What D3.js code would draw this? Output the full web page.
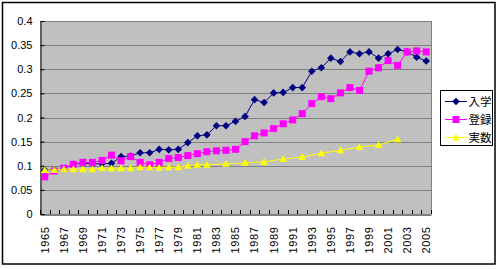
<!DOCTYPE html>
<html>
<head>
<meta charset="utf-8">
<script src="https://cdn.jsdelivr.net/npm/d3@7"></script>
<style>
  body { margin: 0; background: #fff; }
  svg { display: block; }
</style>
</head>
<body>
<div id="chart"></div>
<script>
var svgWidth = 499;
var svgHeight = 269;

var plot = { left: 40, right: 431, top: 21, bottom: 214 };

// data
var years = d3.range(1965, 2006);
var labelYears = years.filter(d => d % 2 == 1);
var yTicks = [0, 0.05, 0.1, 0.15, 0.2, 0.25, 0.3, 0.35, 0.4];
var seriesNames = ["入学", "登録", "実数"];

var nyugaku = [0.091, 0.091, 0.094, 0.103, 0.105, 0.104, 0.104, 0.105, 0.119, 0.12,
  0.127, 0.127, 0.134, 0.133, 0.134, 0.148, 0.162, 0.164, 0.183, 0.183,
  0.192, 0.202, 0.237, 0.231, 0.251, 0.252, 0.262, 0.262, 0.296, 0.303,
  0.323, 0.316, 0.336, 0.332, 0.336, 0.323, 0.332, 0.341, 0.336, 0.325, 0.317];

var touroku = [0.077, 0.089, 0.095, 0.103, 0.107, 0.107, 0.111, 0.122, 0.11, 0.119,
  0.107, 0.102, 0.107, 0.115, 0.117, 0.121, 0.125, 0.129, 0.131, 0.132,
  0.134, 0.15, 0.162, 0.168, 0.177, 0.187, 0.195, 0.208, 0.229, 0.243,
  0.239, 0.251, 0.262, 0.256, 0.296, 0.303, 0.318, 0.308, 0.336, 0.338, 0.336];

var jissu = [0.091, 0.091, 0.093, 0.093, 0.093, 0.093, 0.095, 0.095, 0.095, 0.095,
  0.097, 0.097, 0.096, 0.097, 0.097, 0.1, 0.102, 0.102, null, 0.104,
  null, 0.106, null, 0.108, null, 0.114, null, 0.118, null, 0.126,
  null, 0.132, null, 0.139, null, 0.143, null, 0.155, null, null, null];

var colors = ["#000080", "#ff00ff", "#ffff00"];
var markers = [
  "M0,-3.8L3.8,0L0,3.8L-3.8,0Z",
  "M-3.5,-3.5H3.5V3.5H-3.5Z",
  "M0,-3.8L3.8,3L-3.8,3Z"
];

var svg = d3.select("#chart")
  .append("svg")
  .attr("width", svgWidth)
  .attr("height", svgHeight);

// chart border
svg.append("rect")
  .attr("x", 2.5).attr("y", 2.5)
  .attr("width", 492.5).attr("height", 261.5)
  .attr("fill", "#fff")
  .attr("stroke", "#000")
  .attr("stroke-width", 1.5);

var x = d3.scaleBand()
  .domain(years)
  .range([plot.left, plot.right]);

var y = d3.scaleLinear()
  .domain([0, 0.4])
  .range([plot.bottom, plot.top]);

// plot area
svg.append("rect")
  .attr("x", plot.left).attr("y", plot.top)
  .attr("width", plot.right - plot.left)
  .attr("height", plot.bottom - plot.top)
  .attr("fill", "#c0c0c0");

svg.append("g")
  .selectAll("line")
  .data(yTicks.filter(d => d > 0))
  .enter()
  .append("line")
  .attr("x1", plot.left).attr("x2", plot.right)
  .attr("y1", d => Math.round(y(d)) + 0.5)
  .attr("y2", d => Math.round(y(d)) + 0.5)
  .attr("stroke", "#808080");

svg.append("line")
  .attr("x1", plot.right + 0.5).attr("x2", plot.right + 0.5)
  .attr("y1", plot.top).attr("y2", plot.bottom)
  .attr("stroke", "#808080");

// y axis
var leftAxis = d3.axisLeft(y)
  .tickValues(yTicks)
  .tickFormat(d => String(d))
  .tickSize(-4)
  .tickPadding(8);

var yAxis = svg.append("g")
  .attr("transform", `translate(${plot.left + 0.5}, 0)`)
  .call(leftAxis);
yAxis.select(".domain").attr("stroke", "#000");
yAxis.selectAll(".tick line").attr("stroke", "#000");
yAxis.selectAll("text")
  .attr("font-family", "Liberation Sans, Arial, sans-serif")
  .attr("font-size", "11px")
  .attr("fill", "#000");

// x axis ticks between categories, pointing up
svg.append("g")
  .selectAll("line")
  .data(years.concat([2006]))
  .enter()
  .append("line")
  .attr("x1", d => Math.round(d == 2006 ? plot.right : x(d)) + 0.5)
  .attr("x2", d => Math.round(d == 2006 ? plot.right : x(d)) + 0.5)
  .attr("y1", plot.bottom - 4)
  .attr("y2", plot.bottom)
  .attr("stroke", "#000");

var bottomAxis = d3.axisBottom(x)
  .tickValues(labelYears)
  .tickSize(0)
  .tickSizeOuter(0);

var xAxis = svg.append("g")
  .attr("transform", `translate(0, ${plot.bottom + 0.5})`)
  .call(bottomAxis);
xAxis.select(".domain").attr("stroke", "#000");
xAxis.selectAll("text")
  .attr("transform", "rotate(-90)")
  .attr("text-anchor", "end")
  .attr("x", -12)
  .attr("y", 0)
  .attr("dy", "0.35em")
  .attr("font-family", "Liberation Sans, Arial, sans-serif")
  .attr("font-size", "11px")
  .attr("letter-spacing", "0.6px")
  .attr("fill", "#000");

// series
var allSeries = [nyugaku, touroku, jissu];
var line = d3.line()
  .x(d => x(d.year) + x.bandwidth() / 2)
  .y(d => y(d.v));

allSeries.forEach(function(vals, i) {
  var pts = years.map((yr, j) => ({ year: yr, v: vals[j] }))
    .filter(d => d.v != null);
  var g = svg.append("g");
  g.append("path")
    .attr("d", line(pts))
    .attr("fill", "none")
    .attr("stroke", colors[i])
    .attr("stroke-width", 1);
  g.selectAll("path.m")
    .data(pts)
    .enter()
    .append("path")
    .attr("class", "m")
    .attr("d", markers[i])
    .attr("transform", d => `translate(${x(d.year) + x.bandwidth() / 2}, ${y(d.v)})`)
    .attr("fill", colors[i]);
});

// legend
var legend = svg.append("g");
legend.append("rect")
  .attr("x", 440.5).attr("y", 90.5)
  .attr("width", 52).attr("height", 55)
  .attr("fill", "#fff")
  .attr("stroke", "#000");

var items = legend.selectAll("g.item")
  .data(seriesNames)
  .enter()
  .append("g")
  .attr("class", "item")
  .attr("transform", (d, i) => `translate(0, ${101 + i * 18})`);

items.append("line")
  .attr("x1", 445).attr("x2", 467)
  .attr("y1", 0.5).attr("y2", 0.5)
  .attr("stroke", (d, i) => colors[i]);
items.append("path")
  .attr("d", (d, i) => markers[i])
  .attr("transform", "translate(456, 0.5)")
  .attr("fill", (d, i) => colors[i]);
items.append("text")
  .attr("x", 468.5)
  .attr("y", 0.5)
  .attr("dy", "0.36em")
  .attr("font-family", "Noto Sans CJK JP, sans-serif")
  .attr("font-size", "11.5px")
  .attr("fill", "#000")
  .text(d => d);
</script>
</body>
</html>
